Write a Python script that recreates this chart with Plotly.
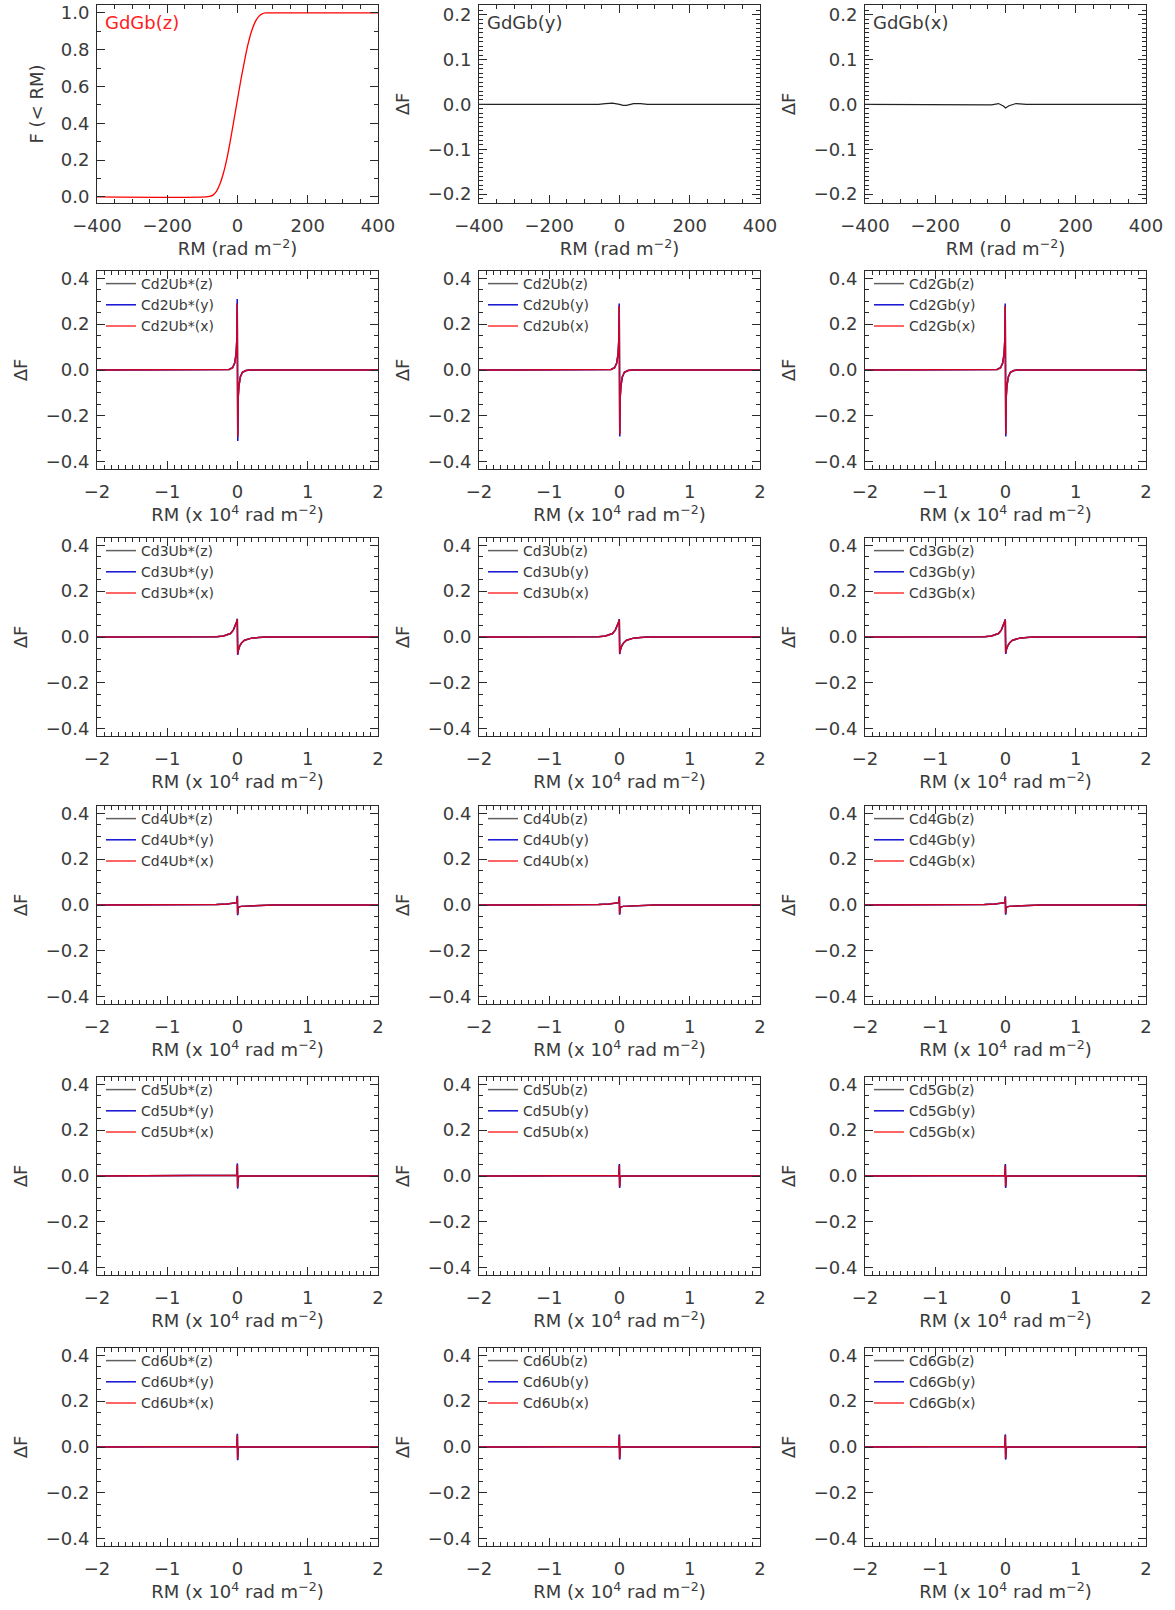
import plotly.graph_objects as go

# ---------------- data ----------------
# Row 1: cumulative distribution and differences (RM in rad m^-2)
rm_cdf = [-400, -90, -80, -70, -60, -50, -40, -30, -20, -10, 0, 10, 20, 30, 40, 50, 60, 70, 80, 90, 400]
f_gdgb_z = [0, 0, 0.003, 0.01, 0.03, 0.07, 0.13, 0.21, 0.31, 0.42, 0.53, 0.64, 0.74, 0.83, 0.90, 0.95, 0.98, 0.995, 1.0, 1.0, 1.0]
rm_dy = [-400, -60, -40, -20, 0, 10, 20, 40, 60, 80, 400]
df_gdgb_y = [0, 0, 0.002, 0.003, 0, -0.002, -0.002, 0.002, 0.002, 0, 0]
rm_dx = [-400, -80, -40, -20, -5, 0, 10, 30, 60, 400]
df_gdgb_x = [0, 0, -0.001, 0.002, -0.004, -0.008, -0.003, 0.002, 0, 0]

# Rows 2-6: RM in units of 1e4 rad m^-2
rm_cd2 = [-2, -0.18, -0.12, -0.07, -0.04, -0.02, -0.01, -0.004, 0.004, 0.01, 0.02, 0.04, 0.07, 0.12, 0.18, 2]
cd2_ubs_z = [0, 0, 0.002, 0.01, 0.03, 0.07, 0.13, 0.29, -0.29, -0.12, -0.07, -0.03, -0.01, -0.002, 0, 0]
cd2_ubs_y = [0, 0, 0.002, 0.01, 0.03, 0.07, 0.13, 0.31, -0.31, -0.12, -0.07, -0.03, -0.01, -0.002, 0, 0]
cd2_ubs_x = [0, 0, 0.002, 0.01, 0.03, 0.07, 0.13, 0.29, -0.29, -0.12, -0.07, -0.03, -0.01, -0.002, 0, 0]
cd2_ub_z = [0, 0, 0.002, 0.01, 0.03, 0.07, 0.13, 0.28, -0.28, -0.12, -0.07, -0.03, -0.01, -0.002, 0, 0]
cd2_ub_y = [0, 0, 0.002, 0.01, 0.03, 0.07, 0.13, 0.29, -0.29, -0.12, -0.07, -0.03, -0.01, -0.002, 0, 0]
cd2_ub_x = [0, 0, 0.002, 0.01, 0.03, 0.07, 0.13, 0.28, -0.28, -0.12, -0.07, -0.03, -0.01, -0.002, 0, 0]
cd2_gb_z = [0, 0, 0.002, 0.01, 0.03, 0.07, 0.13, 0.28, -0.28, -0.12, -0.07, -0.03, -0.01, -0.002, 0, 0]
cd2_gb_y = [0, 0, 0.002, 0.01, 0.03, 0.07, 0.13, 0.29, -0.29, -0.12, -0.07, -0.03, -0.01, -0.002, 0, 0]
cd2_gb_x = [0, 0, 0.002, 0.01, 0.03, 0.07, 0.13, 0.28, -0.28, -0.12, -0.07, -0.03, -0.01, -0.002, 0, 0]

rm_cd3 = [-2, -0.4, -0.3, -0.2, -0.1, -0.06, -0.03, -0.01, -0.003, 0.003, 0.01, 0.03, 0.06, 0.1, 0.2, 0.3, 0.4, 2]
cd3_ubs_z = [0, 0, 0.001, 0.004, 0.015, 0.03, 0.05, 0.068, 0.078, -0.075, -0.06, -0.04, -0.025, -0.014, -0.005, -0.002, 0, 0]
cd3_ubs_y = [0, 0, 0.001, 0.004, 0.015, 0.03, 0.05, 0.068, 0.080, -0.078, -0.06, -0.04, -0.025, -0.014, -0.005, -0.002, 0, 0]
cd3_ubs_x = [0, 0, 0.001, 0.004, 0.015, 0.03, 0.05, 0.068, 0.078, -0.075, -0.06, -0.04, -0.025, -0.014, -0.005, -0.002, 0, 0]
cd3_ub_z = [0, 0, 0.001, 0.004, 0.015, 0.03, 0.05, 0.066, 0.076, -0.072, -0.058, -0.04, -0.025, -0.014, -0.005, -0.002, 0, 0]
cd3_ub_y = [0, 0, 0.001, 0.004, 0.015, 0.03, 0.05, 0.067, 0.078, -0.075, -0.06, -0.04, -0.025, -0.014, -0.005, -0.002, 0, 0]
cd3_ub_x = [0, 0, 0.001, 0.004, 0.015, 0.03, 0.05, 0.066, 0.076, -0.072, -0.058, -0.04, -0.025, -0.014, -0.005, -0.002, 0, 0]
cd3_gb_z = [0, 0, 0.001, 0.004, 0.015, 0.03, 0.05, 0.066, 0.075, -0.070, -0.056, -0.04, -0.025, -0.014, -0.005, -0.002, 0, 0]
cd3_gb_y = [0, 0, 0.001, 0.004, 0.015, 0.03, 0.05, 0.067, 0.077, -0.074, -0.058, -0.04, -0.025, -0.014, -0.005, -0.002, 0, 0]
cd3_gb_x = [0, 0, 0.001, 0.004, 0.015, 0.03, 0.05, 0.066, 0.075, -0.070, -0.056, -0.04, -0.025, -0.014, -0.005, -0.002, 0, 0]

rm_cd4 = [-2, -0.5, -0.3, -0.15, -0.05, -0.01, -0.002, 0.002, 0.01, 0.05, 0.15, 0.3, 0.5, 2]
cd4_ubs_z = [0, 0, 0.002, 0.004, 0.007, 0.01, 0.038, -0.042, -0.01, -0.006, -0.004, -0.002, 0, 0]
cd4_ubs_y = [0, 0, 0.002, 0.004, 0.007, 0.01, 0.040, -0.045, -0.01, -0.006, -0.004, -0.002, 0, 0]
cd4_ubs_x = [0, 0, 0.002, 0.004, 0.007, 0.01, 0.036, -0.040, -0.01, -0.006, -0.004, -0.002, 0, 0]
cd4_ub_z = [0, 0, 0.002, 0.004, 0.007, 0.01, 0.036, -0.040, -0.01, -0.006, -0.004, -0.002, 0, 0]
cd4_ub_y = [0, 0, 0.002, 0.004, 0.007, 0.01, 0.038, -0.042, -0.01, -0.006, -0.004, -0.002, 0, 0]
cd4_ub_x = [0, 0, 0.002, 0.004, 0.007, 0.01, 0.035, -0.038, -0.01, -0.006, -0.004, -0.002, 0, 0]
cd4_gb_z = [0, 0, 0.002, 0.004, 0.007, 0.01, 0.036, -0.040, -0.01, -0.006, -0.004, -0.002, 0, 0]
cd4_gb_y = [0, 0, 0.002, 0.004, 0.007, 0.01, 0.038, -0.042, -0.01, -0.006, -0.004, -0.002, 0, 0]
cd4_gb_x = [0, 0, 0.002, 0.004, 0.007, 0.01, 0.035, -0.038, -0.01, -0.006, -0.004, -0.002, 0, 0]

rm_cd5 = [-2, -0.05, -0.01, -0.002, 0.002, 0.01, 0.05, 2]
cd5_ubs_z = [0, 0, 0.003, 0.050, -0.050, -0.003, 0, 0]
cd5_ubs_y = [0, 0, 0.003, 0.055, -0.055, -0.003, 0, 0]
cd5_ubs_x = [0, 0, 0.003, 0.048, -0.048, -0.003, 0, 0]
cd5_ub_z = [0, 0, 0.002, 0.048, -0.048, -0.002, 0, 0]
cd5_ub_y = [0, 0, 0.002, 0.052, -0.052, -0.002, 0, 0]
cd5_ub_x = [0, 0, 0.002, 0.046, -0.046, -0.002, 0, 0]
cd5_gb_z = [0, 0, 0.002, 0.048, -0.048, -0.002, 0, 0]
cd5_gb_y = [0, 0, 0.002, 0.052, -0.052, -0.002, 0, 0]
cd5_gb_x = [0, 0, 0.002, 0.046, -0.046, -0.002, 0, 0]

rm_cd6 = [-2, -0.05, -0.01, -0.002, 0.002, 0.01, 0.05, 2]
cd6_ubs_z = [0, 0, 0.002, 0.055, -0.055, -0.002, 0, 0]
cd6_ubs_y = [0, 0, 0.002, 0.058, -0.058, -0.002, 0, 0]
cd6_ubs_x = [0, 0, 0.002, 0.052, -0.052, -0.002, 0, 0]
cd6_ub_z = [0, 0, 0.002, 0.052, -0.052, -0.002, 0, 0]
cd6_ub_y = [0, 0, 0.002, 0.055, -0.055, -0.002, 0, 0]
cd6_ub_x = [0, 0, 0.002, 0.050, -0.050, -0.002, 0, 0]
cd6_gb_z = [0, 0, 0.002, 0.052, -0.052, -0.002, 0, 0]
cd6_gb_y = [0, 0, 0.002, 0.055, -0.055, -0.002, 0, 0]
cd6_gb_x = [0, 0, 0.002, 0.050, -0.050, -0.002, 0, 0]

row_names = ["Cd2", "Cd3", "Cd4", "Cd5", "Cd6"]
col_suffix = ["Ub*", "Ub", "Gb"]
row_x = [rm_cd2, rm_cd3, rm_cd4, rm_cd5, rm_cd6]
row_series = [
    [(cd2_ubs_z, cd2_ubs_y, cd2_ubs_x), (cd2_ub_z, cd2_ub_y, cd2_ub_x), (cd2_gb_z, cd2_gb_y, cd2_gb_x)],
    [(cd3_ubs_z, cd3_ubs_y, cd3_ubs_x), (cd3_ub_z, cd3_ub_y, cd3_ub_x), (cd3_gb_z, cd3_gb_y, cd3_gb_x)],
    [(cd4_ubs_z, cd4_ubs_y, cd4_ubs_x), (cd4_ub_z, cd4_ub_y, cd4_ub_x), (cd4_gb_z, cd4_gb_y, cd4_gb_x)],
    [(cd5_ubs_z, cd5_ubs_y, cd5_ubs_x), (cd5_ub_z, cd5_ub_y, cd5_ub_x), (cd5_gb_z, cd5_gb_y, cd5_gb_x)],
    [(cd6_ubs_z, cd6_ubs_y, cd6_ubs_x), (cd6_ub_z, cd6_ub_y, cd6_ub_x), (cd6_gb_z, cd6_gb_y, cd6_gb_x)],
]

# ---------------- layout geometry (pixels) ----------------
W, H = 1175, 1610
col_left = [97, 479, 865]
col_w = 281
row_top = [5, 271, 538, 806, 1077, 1348]
row_bot = [203, 469, 736, 1004, 1275, 1546]

FONT = "DejaVu Sans"
TXT = "#3a3a3a"
AX = "#2a2a2a"
COL_Z, COL_Y, COL_X = "#606060", "#1010d0", "#ff0000"

fig = go.Figure()


def px_x(p):
    return min(1.0, max(0.0, p / W))


def px_y(p):
    return min(1.0, max(0.0, 1 - p / H))


def dom_x(c):
    return [px_x(col_left[c]), px_x(col_left[c] + col_w)]


def dom_y(r):
    return [px_y(row_bot[r]), px_y(row_top[r])]


def axis_common():
    return dict(showline=True, linecolor=AX, linewidth=1, mirror="allticks",
                ticks="inside", tickcolor=AX, ticklen=8, tickwidth=1,
                showgrid=False, zeroline=False, automargin=False,
                tickfont=dict(family=FONT, size=18, color=TXT))


idx = 0
for r in range(6):
    for c in range(3):
        idx += 1
        xa = "x" if idx == 1 else f"x{idx}"
        ya = "y" if idx == 1 else f"y{idx}"
        xkey = "xaxis" if idx == 1 else f"xaxis{idx}"
        ykey = "yaxis" if idx == 1 else f"yaxis{idx}"
        xd = axis_common()
        yd = axis_common()
        xd.update(domain=dom_x(c), anchor=ya, ticklabelstandoff=6)
        yd.update(domain=dom_y(r), anchor=xa, ticklabelstandoff=3)
        if r == 0:
            xd.update(range=[-400, 400], tickvals=[-400, -200, 0, 200, 400],
                      ticktext=["\u2212400", "\u2212200", "0", "200", "400"],
                      minor=dict(dtick=50, ticklen=4, ticks="inside", tickcolor=AX))
            xd["title"] = dict(text="RM (rad m<sup>\u22122</sup>)", standoff=7,
                               font=dict(family=FONT, size=18, color=TXT))
            if c == 0:
                yd.update(range=[-0.033, 1.043], tickvals=[0, 0.2, 0.4, 0.6, 0.8, 1.0],
                          ticktext=["0.0", "0.2", "0.4", "0.6", "0.8", "1.0"],
                          minor=dict(dtick=0.1, tick0=0, ticklen=4, ticks="inside", tickcolor=AX))
                yd["title"] = dict(text="F (&lt; RM)", standoff=12,
                                   font=dict(family=FONT, size=18, color=TXT))
            else:
                yd.update(range=[-0.22, 0.222], tickvals=[-0.2, -0.1, 0, 0.1, 0.2],
                          ticktext=["\u22120.2", "\u22120.1", "0.0", "0.1", "0.2"],
                          minor=dict(dtick=0.01, tick0=0, ticklen=4, ticks="inside", tickcolor=AX))
                yd["title"] = dict(text="\u0394F", standoff=13,
                                   font=dict(family=FONT, size=18, color=TXT))
        else:
            xd.update(range=[-2, 2], tickvals=[-2, -1, 0, 1, 2],
                      ticktext=["\u22122", "\u22121", "0", "1", "2"],
                      minor=dict(dtick=0.1, tick0=0, ticklen=4, ticks="inside", tickcolor=AX))
            xd["title"] = dict(text="RM (x 10<sup>4</sup> rad m<sup>\u22122</sup>)", standoff=7,
                               font=dict(family=FONT, size=18, color=TXT))
            yd.update(range=[-0.432, 0.432], tickvals=[-0.4, -0.2, 0, 0.2, 0.4],
                      ticktext=["\u22120.4", "\u22120.2", "0.0", "0.2", "0.4"],
                      minor=dict(dtick=0.05, tick0=0, ticklen=4, ticks="inside", tickcolor=AX))
            yd["title"] = dict(text="\u0394F", standoff=13,
                               font=dict(family=FONT, size=18, color=TXT))
        fig.layout[xkey] = xd
        fig.layout[ykey] = yd

        if r == 0:
            if c == 0:
                fig.add_trace(go.Scatter(x=rm_cdf, y=f_gdgb_z, mode="lines", line=dict(color="#ff0000", width=1.3),
                                         showlegend=False, xaxis=xa, yaxis=ya, line_shape="spline"))
                lbl, lc = "GdGb(z)", "#ff2020"
            elif c == 1:
                fig.add_trace(go.Scatter(x=rm_dy, y=df_gdgb_y, mode="lines", line=dict(color="#222222", width=1.2),
                                         showlegend=False, xaxis=xa, yaxis=ya))
                lbl, lc = "GdGb(y)", TXT
            else:
                fig.add_trace(go.Scatter(x=rm_dx, y=df_gdgb_x, mode="lines", line=dict(color="#222222", width=1.2),
                                         showlegend=False, xaxis=xa, yaxis=ya))
                lbl, lc = "GdGb(x)", TXT
            fig.add_annotation(x=px_x(col_left[c] + 6), y=px_y(row_top[r] + 5), xref="paper", yref="paper",
                               xanchor="left", yanchor="top", showarrow=False, text=lbl,
                               font=dict(family=FONT, size=18, color=lc))
        else:
            xs = row_x[r - 1]
            sz, sy, sx = row_series[r - 1][c]
            base = row_names[r - 1] + col_suffix[c]
            leg = f"legend{idx}"
            for vals, comp, colr in ((sz, "z", COL_Z), (sy, "y", COL_Y), (sx, "x", COL_X)):
                fig.add_trace(go.Scatter(x=xs, y=vals, mode="lines", name=f"{base}({comp})",
                                         line=dict(color=colr, width=1.5), xaxis=xa, yaxis=ya,
                                         legend=leg, opacity=0.8 if comp == "x" else 1.0))
            fig.layout[leg] = dict(x=px_x(col_left[c] + 4), y=px_y(row_top[r] - 3),
                                   xanchor="left", yanchor="top", bgcolor="rgba(0,0,0,0)",
                                   font=dict(family=FONT, size=14, color=TXT), itemwidth=30,
                                   tracegroupgap=0)

fig.update_layout(width=W, height=H, margin=dict(l=0, r=0, t=0, b=0, autoexpand=False),
                  paper_bgcolor="white", plot_bgcolor="white", showlegend=True)
fig.write_html("out.html", config={"displayModeBar": False},
               post_script="document.body.style.margin='0';")
